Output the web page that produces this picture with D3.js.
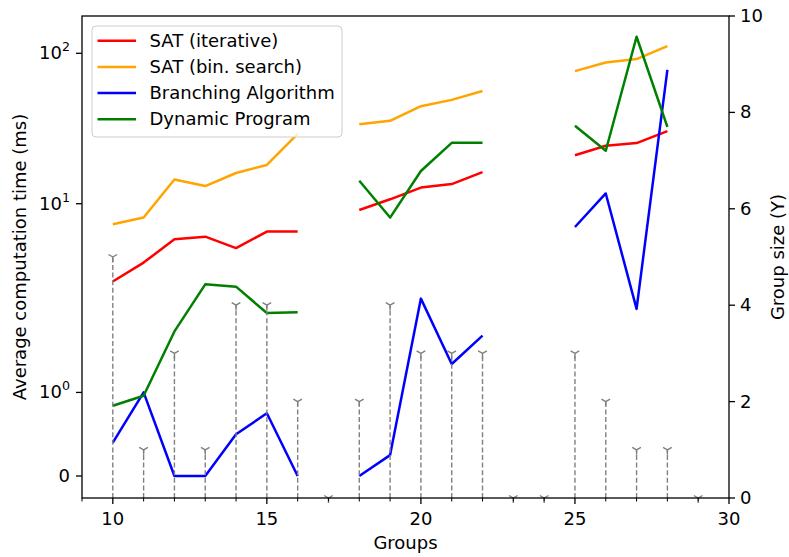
<!DOCTYPE html>
<html>
<head>
<meta charset="utf-8">
<script src="https://cdn.jsdelivr.net/npm/d3@7"></script>
<style>
body { margin: 0; background: #fff; }
text { font-family: "DejaVu Sans", sans-serif; }
</style>
</head>
<body>
<div id="chart"></div>
<script>
// data
var groups = [10, 11, 12, 13, 14, 15, 16, 17, 18, 19, 20, 21, 22, 23, 24, 25, 26, 27, 28, 29];
var satIterative = [3.04, 4.06, 5.8, 6.04, 5.07, 6.53, 6.53, null, 9.09, 10.7, 12.8, 13.5, 16.2, null, null, 21.0, 24.3, 25.3, 30.4, null];
var satBinSearch = [7.3, 8.09, 14.5, 13.1, 16.0, 18.1, 29.1, null, 33.7, 35.6, 44.5, 49.0, 56.2, null, null, 76.1, 86.8, 91.5, 111.6, null];
var branching = [0.4, 1.0, 0, 0, 0.5, 0.75, 0, null, 0, 0.25, 2.34, 1.34, 1.68, null, null, 7.0, 11.7, 2.0, 77.6, null];
var dynProgram = [0.84, 0.96, 1.73, 2.91, 2.81, 1.95, 1.96, null, 14.2, 8.09, 16.5, 25.4, 25.4, null, null, 33.0, 22.5, 128.8, 32.4, null];
var groupSize = [5, 1, 3, 1, 4, 4, 2, 0, 2, 4, 3, 3, 3, 0, 0, 3, 2, 1, 1, 0];

var seriesNames = ['SAT (iterative)', 'SAT (bin. search)', 'Branching Algorithm', 'Dynamic Program'];
var seriesColors = ['#ff0000', '#ffa500', '#0000ff', '#008000'];
var seriesData = [satIterative, satBinSearch, branching, dynProgram];

var xTicks = [10, 15, 20, 25, 30];
var yLeftTicks = [0, 1, 10, 100];
var yLeftExp = [null, '0', '1', '2'];
var yRightTicks = [0, 2, 4, 6, 8, 10];

var W = 789, H = 557;
var mLeft = 82, mRight = 729, mTop = 16, mBottom = 498;
var fs = 18;

// matplotlib symlog, linthresh 2, linscale 1
function symlog(v) {
	var c = 2, a = 1 / (1 - 1 / 10);
	if (Math.abs(v) <= c) return v * a;
	return Math.sign(v) * c * (a + Math.log10(Math.abs(v) / c));
}

var x = d3.scaleLinear().domain([9, 30]).range([mLeft, mRight]);
var yT = d3.scaleLinear().domain([-0.2925, 6.116]).range([mBottom, mTop]);
var y = function(v) { return yT(symlog(v)); };
var y2 = d3.scaleLinear().domain([0, 10]).range([mBottom, mTop]);

var svg = d3.select('#chart').append('svg')
	.attr('width', W)
	.attr('height', H);

svg.append('rect').attr('width', W).attr('height', H).attr('fill', '#fff');

var plot = svg.append('g');

/*
 * series lines
 */
var line = d3.line()
	.defined(function(d) { return d != null; })
	.x(function(d, i) { return x(groups[i]); })
	.y(function(d) { return y(d); });

seriesData.forEach(function(s, k) {
	plot.append('path')
		.datum(s)
		.attr('d', line)
		.attr('fill', 'none')
		.attr('stroke', seriesColors[k])
		.attr('stroke-width', 2.5)
		.attr('stroke-linejoin', 'round');
});

/*
 * group size stems on the twin axis
 */
var stems = svg.append('g');
stems.selectAll('.stem')
	.data(groupSize)
	.enter()
		.append('line')
			.attr('class', 'stem')
			.attr('x1', function(d, i) { return x(groups[i]); })
			.attr('x2', function(d, i) { return x(groups[i]); })
			.attr('y1', y2(0))
			.attr('y2', function(d) { return y2(d); })
			.attr('stroke', '#808080')
			.attr('stroke-width', 1.4)
			.attr('stroke-dasharray', '5,2.6');

var r = 5;
stems.selectAll('.marker')
	.data(groupSize)
	.enter()
		.append('path')
			.attr('class', 'marker')
			.attr('transform', function(d, i) { return 'translate(' + x(groups[i]) + ',' + y2(d) + ')'; })
			.attr('d', 'M0,0L0,' + r + 'M0,0L' + (-0.866 * r) + ',' + (-0.5 * r) + 'M0,0L' + (0.866 * r) + ',' + (-0.5 * r))
			.attr('fill', 'none')
			.attr('stroke', '#808080')
			.attr('stroke-width', 1.4);

/*
 * axes
 */
var ax = svg.append('g');

ax.append('rect')
	.attr('x', mLeft).attr('y', mTop)
	.attr('width', mRight - mLeft).attr('height', mBottom - mTop)
	.attr('fill', 'none')
	.attr('stroke', '#000')
	.attr('stroke-width', 1.3);

// x minor ticks
d3.range(9, 31).forEach(function(v) {
	if (xTicks.indexOf(v) >= 0) return;
	ax.append('line')
		.attr('x1', x(v)).attr('x2', x(v))
		.attr('y1', mBottom).attr('y2', mBottom + 3.5)
		.attr('stroke', '#000').attr('stroke-width', 1);
});

xTicks.forEach(function(v) {
	ax.append('line')
		.attr('x1', x(v)).attr('x2', x(v))
		.attr('y1', mBottom).attr('y2', mBottom + 6)
		.attr('stroke', '#000').attr('stroke-width', 1.3);
	ax.append('text')
		.attr('x', x(v)).attr('y', mBottom + 26.5)
		.attr('text-anchor', 'middle')
		.attr('font-size', fs)
		.text(v);
});

yLeftTicks.forEach(function(v, i) {
	var py = y(v);
	ax.append('line')
		.attr('x1', mLeft - 6).attr('x2', mLeft)
		.attr('y1', py).attr('y2', py)
		.attr('stroke', '#000').attr('stroke-width', 1.3);
	var t = ax.append('text')
		.attr('x', mLeft - 12).attr('y', py + 6)
		.attr('text-anchor', 'end')
		.attr('font-size', fs);
	if (yLeftExp[i] == null) {
		t.text(v);
	} else {
		t.append('tspan').text('10');
		t.append('tspan')
			.attr('dy', -8)
			.attr('font-size', fs * 0.7)
			.text(yLeftExp[i]);
	}
});

yRightTicks.forEach(function(v) {
	var py = y2(v);
	ax.append('line')
		.attr('x1', mRight).attr('x2', mRight + 6)
		.attr('y1', py).attr('y2', py)
		.attr('stroke', '#000').attr('stroke-width', 1.3);
	ax.append('text')
		.attr('x', mRight + 11).attr('y', py + 6)
		.attr('font-size', fs)
		.text(v);
});

ax.append('text')
	.attr('x', (mLeft + mRight) / 2).attr('y', 549)
	.attr('text-anchor', 'middle')
	.attr('font-size', fs)
	.text('Groups');

ax.append('text')
	.attr('transform', 'translate(26,' + ((mTop + mBottom) / 2) + ') rotate(-90)')
	.attr('text-anchor', 'middle')
	.attr('font-size', fs)
	.text('Average computation time (ms)');

ax.append('text')
	.attr('transform', 'translate(784,' + ((mTop + mBottom) / 2) + ') rotate(-90)')
	.attr('text-anchor', 'middle')
	.attr('font-size', fs)
	.text('Group size (Y)');

/*
 * legend
 */
var lg = svg.append('g').attr('transform', 'translate(92,26)');
lg.append('rect')
	.attr('width', 250).attr('height', 111)
	.attr('rx', 4).attr('ry', 4)
	.attr('fill', '#fff').attr('fill-opacity', 0.8)
	.attr('stroke', '#cccccc')
	.attr('stroke-width', 1);

seriesNames.forEach(function(name, k) {
	var ly = 14.7 + k * 26.2;
	lg.append('line')
		.attr('x1', 5.5).attr('x2', 44)
		.attr('y1', ly).attr('y2', ly)
		.attr('stroke', seriesColors[k])
		.attr('stroke-width', 2.5);
	lg.append('text')
		.attr('x', 57.5).attr('y', ly + 6)
		.attr('font-size', fs)
		.text(name);
});
</script>
</body>
</html>
